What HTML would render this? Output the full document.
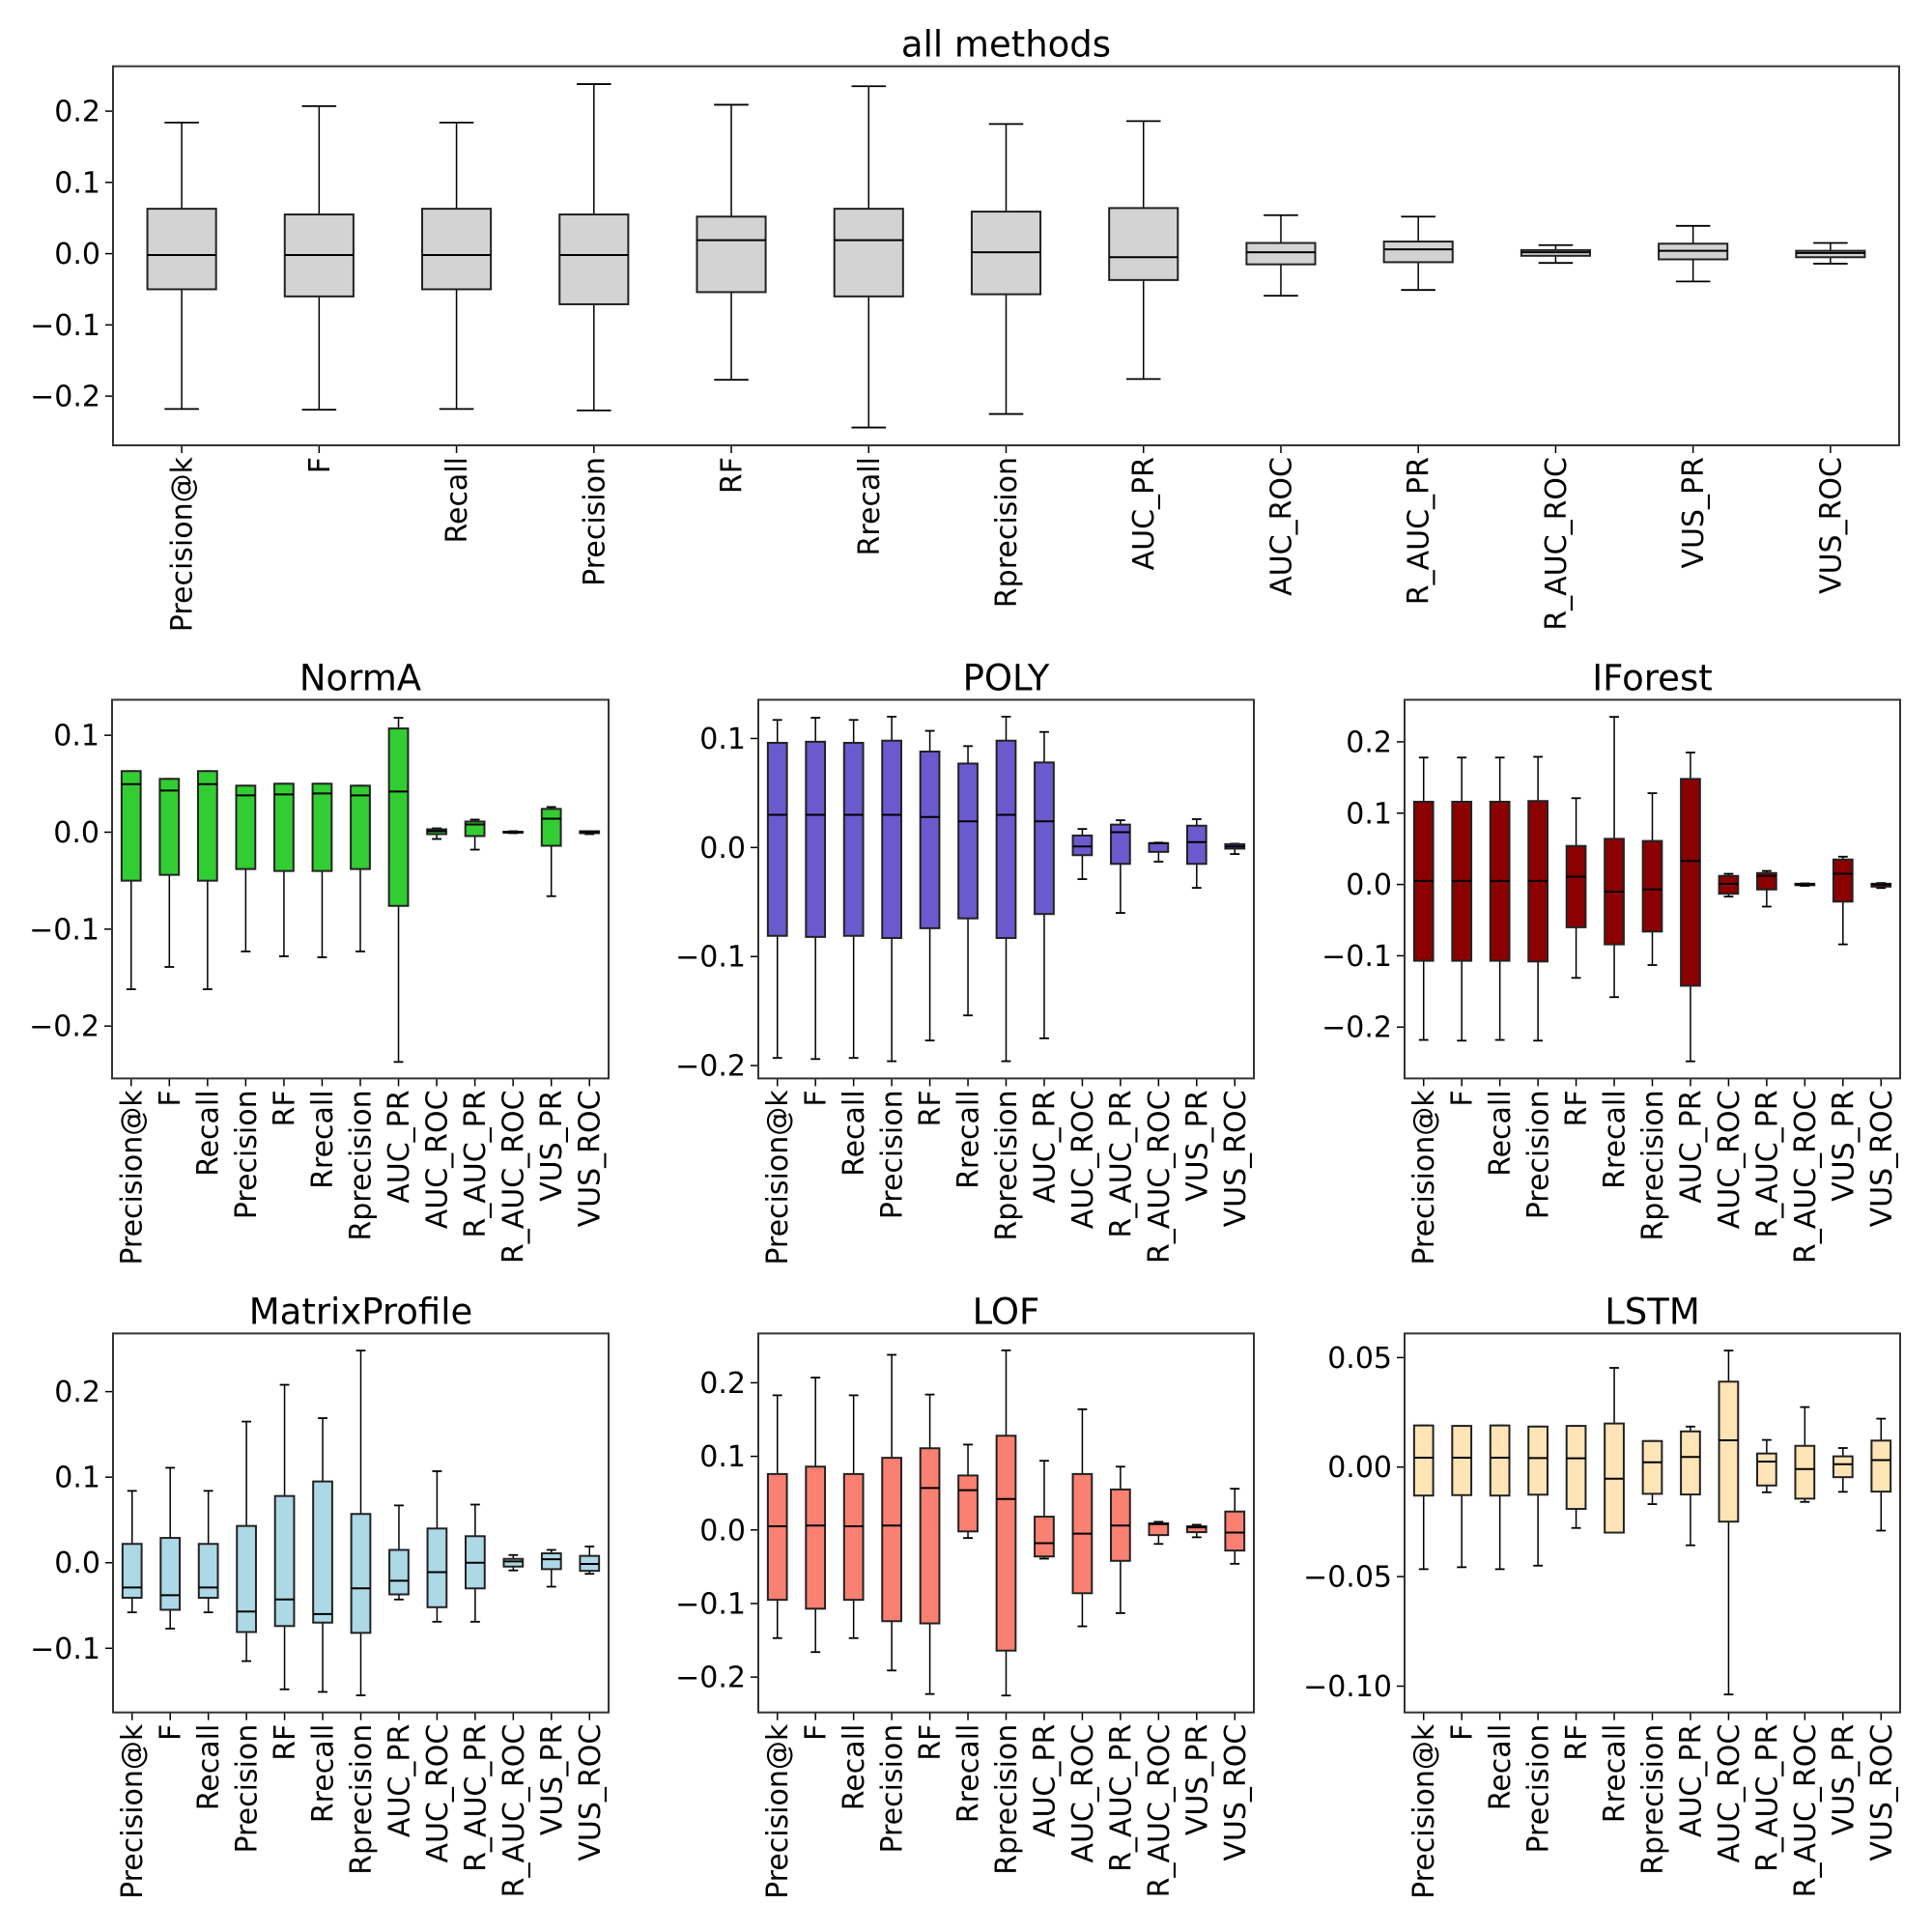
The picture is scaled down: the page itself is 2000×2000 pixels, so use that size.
<!DOCTYPE html>
<html><head><meta charset="utf-8"><style>
html,body{margin:0;padding:0;background:#fff;}
svg{display:block;font-family:"DejaVu Sans","Liberation Sans",sans-serif;}
</style></head><body>
<svg id="fig" xmlns="http://www.w3.org/2000/svg" width="2000" height="2000" viewBox="0 0 2000 2000"></svg>
<script>
const categories = ["Precision@k","F","Recall","Precision","RF","Rrecall","Rprecision","AUC_PR","AUC_ROC","R_AUC_PR","R_AUC_ROC","VUS_PR","VUS_ROC"];
// each entry: [lowWhisker, Q1, median, Q3, highWhisker]
const allStats = [[-0.218,-0.05,-0.002,0.063,0.184],[-0.219,-0.06,-0.002,0.055,0.207],[-0.218,-0.05,-0.002,0.063,0.184],[-0.22,-0.071,-0.002,0.055,0.238],[-0.177,-0.054,0.019,0.052,0.209],[-0.244,-0.06,0.019,0.063,0.235],[-0.225,-0.057,0.002,0.059,0.182],[-0.176,-0.037,-0.005,0.064,0.186],[-0.059,-0.015,0.002,0.015,0.054],[-0.051,-0.012,0.006,0.017,0.052],[-0.013,-0.003,0.002,0.005,0.012],[-0.039,-0.008,0.004,0.014,0.039],[-0.014,-0.005,0.001,0.004,0.015]];
const normaStats = [[-0.162,-0.05,0.0496,0.063,0.063],[-0.139,-0.044,0.043,0.055,0.055],[-0.162,-0.05,0.0496,0.063,0.063],[-0.123,-0.038,0.038,0.048,0.048],[-0.128,-0.04,0.039,0.05,0.05],[-0.129,-0.04,0.04,0.05,0.05],[-0.123,-0.038,0.038,0.048,0.048],[-0.237,-0.076,0.042,0.107,0.118],[-0.007,-0.002,0.001,0.003,0.004],[-0.018,-0.004,0.008,0.011,0.013],[-0.001,-0.0005,0,0.0005,0.001],[-0.066,-0.014,0.014,0.024,0.026],[-0.002,-0.001,0,0.001,0.001]];
const polyStats = [[-0.193,-0.081,0.03,0.096,0.117],[-0.194,-0.082,0.03,0.097,0.119],[-0.193,-0.081,0.03,0.096,0.117],[-0.196,-0.083,0.03,0.098,0.12],[-0.177,-0.074,0.028,0.088,0.107],[-0.154,-0.065,0.024,0.077,0.093],[-0.196,-0.083,0.03,0.098,0.12],[-0.175,-0.061,0.024,0.078,0.106],[-0.029,-0.007,0.001,0.011,0.017],[-0.06,-0.015,0.014,0.021,0.025],[-0.013,-0.004,0.004,0.004,0.0045],[-0.037,-0.015,0.005,0.02,0.026],[-0.006,-0.001,0.001,0.003,0.0035]];
const iforestStats = [[-0.218,-0.107,0.005,0.116,0.178],[-0.219,-0.107,0.005,0.116,0.178],[-0.218,-0.107,0.005,0.116,0.178],[-0.219,-0.108,0.005,0.117,0.179],[-0.131,-0.06,0.011,0.054,0.121],[-0.158,-0.084,-0.01,0.064,0.235],[-0.113,-0.066,-0.007,0.061,0.128],[-0.248,-0.142,0.033,0.148,0.185],[-0.017,-0.013,0.001,0.012,0.015],[-0.031,-0.007,0.012,0.016,0.019],[-0.002,-0.001,0,0.001,0.0015],[-0.084,-0.024,0.015,0.035,0.039],[-0.005,-0.003,0,0.001,0.002]];
const mpStats = [[-0.058,-0.041,-0.029,0.022,0.084],[-0.077,-0.055,-0.038,0.029,0.111],[-0.058,-0.041,-0.029,0.022,0.084],[-0.115,-0.081,-0.057,0.043,0.165],[-0.148,-0.074,-0.043,0.078,0.208],[-0.151,-0.07,-0.06,0.095,0.169],[-0.155,-0.082,-0.03,0.057,0.248],[-0.043,-0.037,-0.021,0.015,0.067],[-0.069,-0.052,-0.011,0.04,0.107],[-0.069,-0.03,0,0.031,0.068],[-0.009,-0.0045,0.0015,0.0045,0.009],[-0.028,-0.0075,0.004,0.011,0.015],[-0.013,-0.0095,-0.0015,0.008,0.019]];
const lofStats = [[-0.147,-0.095,0.005,0.076,0.183],[-0.166,-0.107,0.006,0.086,0.207],[-0.147,-0.095,0.005,0.076,0.183],[-0.191,-0.124,0.006,0.098,0.238],[-0.223,-0.127,0.057,0.111,0.184],[-0.011,-0.002,0.054,0.074,0.116],[-0.225,-0.164,0.042,0.128,0.244],[-0.039,-0.036,-0.018,0.018,0.094],[-0.131,-0.086,-0.005,0.076,0.164],[-0.113,-0.042,0.006,0.055,0.086],[-0.019,-0.007,0.008,0.009,0.011],[-0.01,-0.003,0.0035,0.005,0.007],[-0.046,-0.028,-0.0035,0.025,0.056]];
const lstmStats = [[-0.0466,-0.013,0.0043,0.019,0.019],[-0.0457,-0.0128,0.0043,0.0188,0.0188],[-0.0466,-0.013,0.0043,0.019,0.019],[-0.045,-0.0126,0.0041,0.0185,0.0185],[-0.0278,-0.0191,0.004,0.0188,0.0188],[-0.0299,-0.0299,-0.0053,0.0199,0.0453],[-0.0169,-0.0122,0.0022,0.0119,0.0119],[-0.0357,-0.0125,0.0046,0.0163,0.0185],[-0.1038,-0.0249,0.0122,0.039,0.0532],[-0.0115,-0.0084,0.0025,0.0062,0.0124],[-0.0159,-0.0144,-0.0009,0.0097,0.0274],[-0.0113,-0.0046,0.0013,0.0049,0.0087],[-0.029,-0.0112,0.0032,0.0121,0.0221]];
const ticksBig = [0.2,0.1,0.0,-0.1,-0.2];
const ticksSmall = [0.1,0.0,-0.1,-0.2];
const ticksLstm = [0.05,0.0,-0.05,-0.10];
const tickLabelsBig = ["0.2","0.1","0.0","\u22120.1","\u22120.2"];
const tickLabelsSmall = ["0.1","0.0","\u22120.1","\u22120.2"];
const tickLabelsMp = ["0.2","0.1","0.0","\u22120.1"];
const ticksMp = [0.2,0.1,0.0,-0.1];
const tickLabelsLstm = ["0.05","0.00","\u22120.05","\u22120.10"];

const panels = [
 {name:"all-methods",title:"all methods",stats:allStats,color:"#d3d3d3",x0:117,x1:1966,y0:68.6,y1:461,ymax:0.263,ymin:-0.269,ticks:ticksBig,labels:tickLabelsBig},
 {name:"norma",title:"NormA",stats:normaStats,color:"#32cd32",x0:116,x1:630,y0:724.4,y1:1116.4,ymax:0.1366,ymin:-0.254,ticks:ticksSmall,labels:tickLabelsSmall},
 {name:"poly",title:"POLY",stats:polyStats,color:"#6a5acd",x0:785,x1:1298,y0:724.4,y1:1116.4,ymax:0.1355,ymin:-0.2118,ticks:ticksSmall,labels:tickLabelsSmall},
 {name:"iforest",title:"IForest",stats:iforestStats,color:"#8b0000",x0:1454,x1:1967,y0:724.4,y1:1116.4,ymax:0.259,ymin:-0.272,ticks:ticksBig,labels:tickLabelsBig},
 {name:"matrixprofile",title:"MatrixProfile",stats:mpStats,color:"#add8e6",x0:117,x1:630,y0:1380.4,y1:1772.7,ymax:0.268,ymin:-0.175,ticks:ticksMp,labels:tickLabelsMp},
 {name:"lof",title:"LOF",stats:lofStats,color:"#fa8072",x0:785,x1:1298,y0:1380.4,y1:1772.7,ymax:0.267,ymin:-0.248,ticks:ticksBig,labels:tickLabelsBig},
 {name:"lstm",title:"LSTM",stats:lstmStats,color:"#ffe4b5",x0:1454,x1:1967,y0:1380.4,y1:1772.7,ymax:0.061,ymin:-0.112,ticks:ticksLstm,labels:tickLabelsLstm}
];
const NS="http://www.w3.org/2000/svg";
const svg=document.getElementById('fig');
function mk(tag,attrs,parent){const e=document.createElementNS(NS,tag);for(const k in attrs)e.setAttribute(k,attrs[k]);(parent||svg).appendChild(e);return e;}
panels.forEach(p=>{
  const g=mk('g',{});
  
  
  const yS=v=>p.y0+(p.ymax-v)/(p.ymax-p.ymin)*(p.y1-p.y0);
  const n=categories.length, step=(p.x1-p.x0)/n;
  const xS=i=>p.x0+(i+0.5)*step;
  const t=mk('text',{x:(p.x0+p.x1)/2,y:p.y0-10,'text-anchor':'middle','font-size':37,fill:'#000'},g);
  t.textContent=p.title;
  
  
  p.ticks.forEach((tv,k)=>{
    const y=yS(tv);
    mk('line',{x1:p.x0-8,x2:p.x0,y1:y,y2:y,stroke:'#000','stroke-width':1.5},g);
    const tl=mk('text',{x:p.x0-13,y:y+10.5,'text-anchor':'end','font-size':30,fill:'#000'},g);
    tl.textContent=p.labels[k];
    
    
  });
  p.stats.forEach((s,i)=>{
    const x=xS(i), bw=step*0.5, cw=step*0.25;
    const bg=mk('g',{},g);
    
    
    mk('line',{x1:x,x2:x,y1:yS(s[0]),y2:yS(s[1]),stroke:'#000','stroke-width':1.5},bg);
    mk('line',{x1:x,x2:x,y1:yS(s[3]),y2:yS(s[4]),stroke:'#000','stroke-width':1.5},bg);
    mk('line',{x1:x-cw/2,x2:x+cw/2,y1:yS(s[0]),y2:yS(s[0]),stroke:'#000','stroke-width':1.8},bg);
    mk('line',{x1:x-cw/2,x2:x+cw/2,y1:yS(s[4]),y2:yS(s[4]),stroke:'#000','stroke-width':1.8},bg);
    const top=yS(s[3]), bot=yS(s[1]);
    mk('rect',{x:x-bw/2,y:top,width:bw,height:Math.max(bot-top,0.5),fill:p.color,stroke:'#222','stroke-width':2},bg);
    mk('line',{x1:x-bw/2,x2:x+bw/2,y1:yS(s[2]),y2:yS(s[2]),stroke:'#000','stroke-width':2},bg);
    mk('line',{x1:x,x2:x,y1:p.y1,y2:p.y1+8,stroke:'#000','stroke-width':1.5},g);
    const xl=mk('text',{transform:`translate(${x+10.5},${p.y1+12}) rotate(-90)`,'text-anchor':'end','font-size':30,fill:'#000'},g);
    xl.textContent=categories[i];
    
    
  });
  const fr=mk('rect',{x:p.x0,y:p.y0,width:p.x1-p.x0,height:p.y1-p.y0,fill:'none',stroke:'#333','stroke-width':2},g);
  
  
});
</script>
</body></html>
